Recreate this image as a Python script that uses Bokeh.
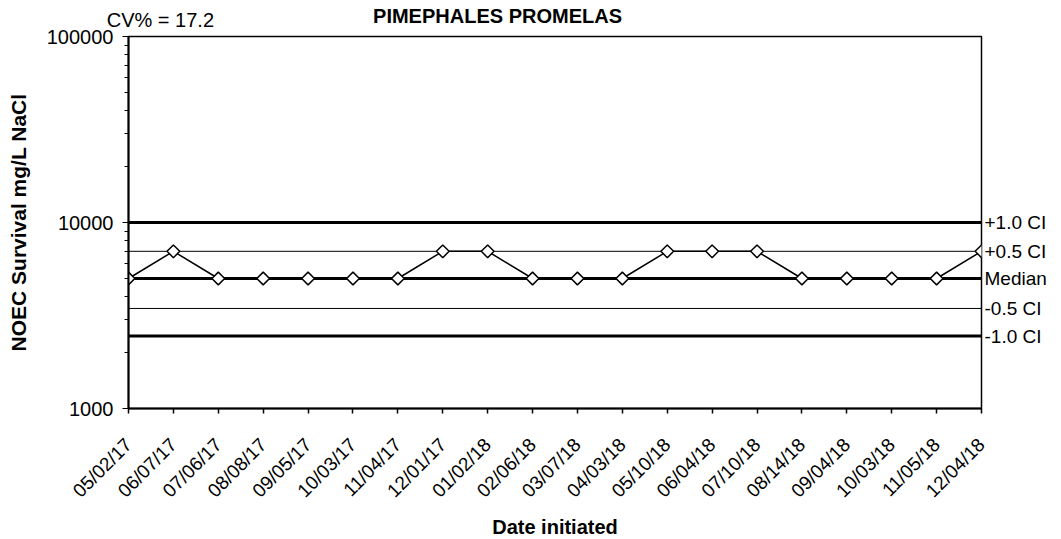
import math
from bokeh.plotting import figure
from bokeh.models import FixedTicker, Range1d, PrintfTickFormatter, LogAxis, LinearAxis
from bokeh.embed import file_html
from bokeh.resources import INLINE

# ---- data ----
dates = ["05/02/17", "06/07/17", "07/06/17", "08/08/17", "09/05/17", "10/03/17",
         "11/04/17", "12/01/17", "01/02/18", "02/06/18", "03/07/18", "04/03/18",
         "05/10/18", "06/04/18", "07/10/18", "08/14/18", "09/04/18", "10/03/18",
         "11/05/18", "12/04/18"]
noec = [5000, 7000, 5000, 5000, 5000, 5000, 5000, 7000, 7000, 5000,
        5000, 5000, 7000, 7000, 7000, 5000, 5000, 5000, 5000, 7000]
ci_labels = ["+1.0 CI", "+0.5 CI", "Median", "-0.5 CI", "-1.0 CI"]
ci_values = [10000, 7000, 5000, 3450, 2450]
ci_widths = [3, 1, 3, 1, 3]
y_major = [1000, 10000, 100000]
title_text = "PIMEPHALES PROMELAS"
cv_text = "CV% = 17.2"

FONT = "Liberation Sans"
xs = list(range(len(dates)))

# horizontal anchor positions (in x-axis units) of the two header texts
CV_POS = 0.71
TITLE_POS = 8.22

p = figure(y_axis_type="log",
           x_range=Range1d(0, len(dates) - 1),
           y_range=Range1d(y_major[0], y_major[-1]),
           frame_width=853, frame_height=372,
           min_border_left=128, min_border_right=72,
           min_border_top=36, min_border_bottom=131,
           output_backend="svg", toolbar_location=None)

p.background_fill_color = "white"
p.border_fill_color = "white"
p.outline_line_color = "black"
p.outline_line_width = 1.5
p.xgrid.visible = False
p.ygrid.visible = False

# CI lines
for v, w in zip(ci_values, ci_widths):
    p.line([xs[0], xs[-1]], [v, v], line_color="black", line_width=w)

# series
p.line(xs, noec, line_color="black", line_width=1.5)
p.scatter(xs, noec, marker="square", angle=math.pi / 4, size=9,
          fill_color="white", line_color="black", line_width=1.5)

# x axis
p.xaxis.ticker = FixedTicker(ticks=xs)
p.xaxis.major_label_overrides = {i: d for i, d in enumerate(dates)}
p.xaxis.major_label_orientation = math.pi / 4
p.xaxis.axis_label = "Date initiated"
p.xaxis.axis_label_text_font = FONT
p.xaxis.axis_label_text_font_style = "bold"
p.xaxis.axis_label_text_font_size = "20px"
p.xaxis.axis_label_text_color = "black"
p.xaxis.axis_label_standoff = 4
p.xaxis.major_label_text_font = FONT
p.xaxis.major_label_text_font_size = "19px"
p.xaxis.major_label_text_color = "black"
p.xaxis.major_tick_out = 5
p.xaxis.major_tick_in = 0
p.xaxis.minor_tick_out = 0
p.xaxis.axis_line_width = 2
p.xaxis.major_tick_line_width = 1.5
p.xaxis.major_label_standoff = 28

# y axis
minor = [m * d for d in y_major[:-1] for m in range(2, 10)]
p.yaxis.ticker = FixedTicker(ticks=y_major, minor_ticks=minor)
p.yaxis.formatter = PrintfTickFormatter(format="%d")
p.yaxis.axis_label = "NOEC Survival mg/L NaCl"
p.yaxis.axis_label_text_font = FONT
p.yaxis.axis_label_text_font_style = "bold"
p.yaxis.axis_label_text_font_size = "21px"
p.yaxis.axis_label_text_color = "black"
p.yaxis.axis_label_standoff = 14
p.yaxis.major_label_text_font = FONT
p.yaxis.major_label_text_font_size = "20px"
p.yaxis.major_label_text_color = "black"
p.yaxis.major_tick_out = 6
p.yaxis.major_tick_in = 0
p.yaxis.minor_tick_out = 4
p.yaxis.minor_tick_in = 0
p.yaxis.axis_line_width = 2
p.yaxis.major_label_standoff = 9

# right-side CI labels as a right axis
ra = LogAxis(ticker=FixedTicker(ticks=ci_values, minor_ticks=[]))
ra.major_label_overrides = {v: lab for v, lab in zip(ci_values, ci_labels)}
ra.major_tick_out = 0
ra.major_tick_in = 0
ra.minor_tick_out = 0
ra.minor_tick_in = 0
ra.axis_line_color = None
ra.major_label_standoff = 3
ra.major_label_text_font = FONT
ra.major_label_text_font_size = "19px"
ra.major_label_text_color = "black"
p.add_layout(ra, "right")


def header_axis(pos, text, style, standoff):
    ax = LinearAxis(ticker=FixedTicker(ticks=[pos], minor_ticks=[]))
    ax.major_label_overrides = {pos: text}
    ax.axis_line_color = None
    ax.major_tick_line_color = None
    ax.minor_tick_line_color = None
    ax.major_tick_out = 0
    ax.major_tick_in = 0
    ax.minor_tick_out = 0
    ax.minor_tick_in = 0
    ax.major_label_standoff = standoff
    ax.major_label_text_font = FONT
    ax.major_label_text_font_size = "20px"
    ax.major_label_text_font_style = style
    ax.major_label_text_color = "black"
    return ax


# inner header row: CV%, outer (pulled down): chart title
p.add_layout(header_axis(CV_POS, cv_text, "normal", 6), "above")
p.add_layout(header_axis(TITLE_POS, title_text, "bold", -21), "above")

open("out.html", "w").write(file_html(p, INLINE))
